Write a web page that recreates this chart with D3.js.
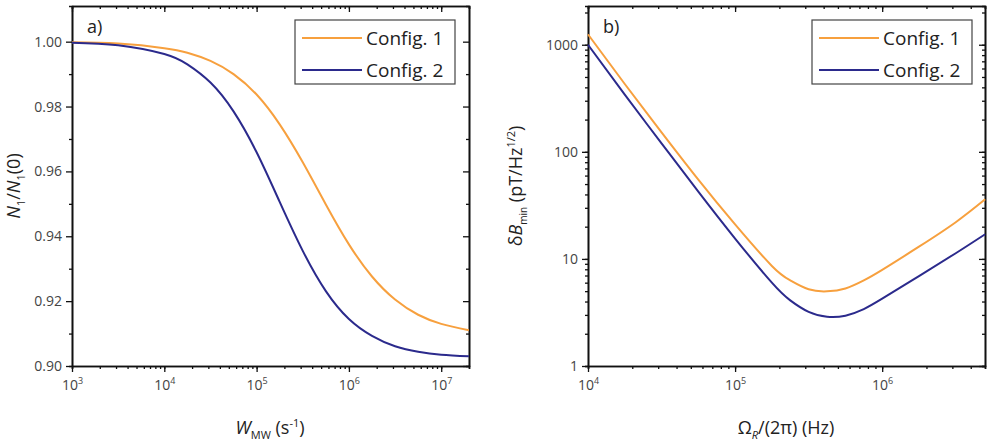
<!DOCTYPE html>
<html>
<head>
<meta charset="utf-8">
<script src="https://cdn.jsdelivr.net/npm/d3@7"></script>
<style>
  body { margin: 0; background: #fff; }
  svg text { font-family: "Open Sans", Lato, sans-serif; }
</style>
</head>
<body>
<svg id="chart" width="993" height="443"></svg>
<script>
// ---- panel a) data : N1/N1(0) vs W_MW (exponent of 10)
var wmwExp = [3, 3.5, 4, 4.25, 4.5, 4.75, 5, 5.25, 5.5, 5.75, 6, 6.25, 6.5, 6.75, 7, 7.3];
var ratioCfg1 = [0.9998, 0.9994, 0.9980, 0.9966, 0.9941, 0.9900, 0.9837, 0.9745, 0.9628, 0.9498,
                 0.9375, 0.9276, 0.9205, 0.9158, 0.9130, 0.9110];
var ratioCfg2 = [0.9997, 0.9989, 0.9962, 0.9930, 0.9874, 0.9785, 0.9659, 0.9506, 0.9355, 0.9231,
                 0.9145, 0.9093, 0.9061, 0.9044, 0.9035, 0.9030];

// ---- panel b) data : dB_min vs Omega_R/2pi (exponent of 10)
var omegaExp = [4, 4.25, 4.5, 4.75, 5, 5.25, 5.375, 5.5, 5.625, 5.75, 5.875, 6, 6.25, 6.5, 6.7];
var dbCfg1 = [1250, 430, 152, 55, 21, 8.6, 6.3, 5.2, 4.98, 5.3, 6.3, 7.9, 13, 22, 36];
var dbCfg2 = [1000, 342, 120, 42.5, 15.5, 6.0, 4.1, 3.2, 2.88, 2.95, 3.4, 4.25, 6.9, 11.3, 17];

var seriesNames = ["Config. 1", "Config. 2"];
var colors = ["#f7a03e", "#2b2a8c"];

var ratioTicks = [0.90, 0.92, 0.94, 0.96, 0.98, 1.00];
var ratioMinor = [0.91, 0.93, 0.95, 0.97, 0.99];
var dbTicks = [1, 10, 100, 1000];

var svg = d3.select("#chart");
var H = {top: 6, bottom: 366};

// all 1..9 x 10^n values inside a log domain
function logMinor(domain) {
  var out = [];
  for (var e = Math.floor(Math.log10(domain[0])); e <= Math.ceil(Math.log10(domain[1])); e++) {
    for (var k = 1; k < 10; k++) {
      var v = k * Math.pow(10, e);
      if (v >= domain[0] * 0.999 && v <= domain[1] * 1.001) out.push(v);
    }
  }
  return out;
}

function styleAxis(g) {
  g.select(".domain").attr("stroke", "#111").attr("stroke-width", 1.6);
  g.selectAll(".tick line").attr("stroke", "#111").attr("stroke-width", 1.3);
  g.selectAll("text").attr("fill", "#444").attr("font-size", 14)
    .attr("font-family", "'Open Sans', Lato, sans-serif");
}

function powLabels(g) {
  g.selectAll(".tick text").each(function(d) {
    var t = d3.select(this);
    t.text("");
    t.append("tspan").text("10");
    t.append("tspan").attr("dy", -6).attr("font-size", 9).text(Math.round(Math.log10(d)));
  });
}

function drawPanel(p) {
  var g = svg.append("g");
  var x = p.x, y = p.y;
  var xr = x.range(), yr = y.range();

  // bottom axis
  var xMaj = p.xMajor;
  g.append("g").attr("transform", "translate(0," + yr[0] + ")")
    .call(d3.axisBottom(x).tickValues(logMinor(x.domain())).tickSize(3).tickFormat(""))
    .call(styleAxis);
  g.append("g").attr("transform", "translate(0," + yr[0] + ")")
    .call(d3.axisBottom(x).tickValues(xMaj).tickSizeInner(6).tickSizeOuter(0).tickPadding(8))
    .call(styleAxis).call(powLabels);
  // top axis (inward)
  g.append("g").attr("transform", "translate(0," + yr[1] + ")")
    .call(d3.axisTop(x).tickValues(logMinor(x.domain())).tickSize(-3).tickFormat(""))
    .call(styleAxis);
  g.append("g").attr("transform", "translate(0," + yr[1] + ")")
    .call(d3.axisTop(x).tickValues(xMaj).tickSizeInner(-6).tickSizeOuter(0).tickFormat(""))
    .call(styleAxis);

  // left axis
  g.append("g").attr("transform", "translate(" + xr[0] + ",0)")
    .call(d3.axisLeft(y).tickValues(p.yMinor).tickSize(3).tickFormat(""))
    .call(styleAxis);
  g.append("g").attr("transform", "translate(" + xr[0] + ",0)")
    .call(d3.axisLeft(y).tickValues(p.yMajor).tickSizeInner(6).tickSizeOuter(0).tickPadding(4)
      .tickFormat(p.yFormat))
    .call(styleAxis);
  // right axis (inward)
  g.append("g").attr("transform", "translate(" + xr[1] + ",0)")
    .call(d3.axisRight(y).tickValues(p.yMinor).tickSize(-3).tickFormat(""))
    .call(styleAxis);
  g.append("g").attr("transform", "translate(" + xr[1] + ",0)")
    .call(d3.axisRight(y).tickValues(p.yMajor).tickSizeInner(-6).tickSizeOuter(0).tickFormat(""))
    .call(styleAxis);

  // curves
  var line = d3.line()
    .x(function(d) { return x(Math.pow(10, d[0])); })
    .y(function(d) { return y(d[1]); })
    .curve(d3.curveNatural);
  p.series.forEach(function(vals, i) {
    g.append("path")
      .datum(p.xs.map(function(e, j) { return [e, vals[j]]; }))
      .attr("fill", "none")
      .attr("stroke", colors[i])
      .attr("stroke-width", 2)
      .attr("d", line);
  });

  // panel letter
  g.append("text").attr("x", xr[0] + 15).attr("y", 33)
    .attr("font-size", 18).attr("fill", "#222").text(p.letter);

  // legend
  var lg = g.append("g").attr("transform", "translate(" + p.legendX + ",20)");
  lg.append("rect").attr("width", 160).attr("height", 64)
    .attr("fill", "#fff").attr("stroke", "#444").attr("stroke-width", 1.2);
  seriesNames.forEach(function(name, i) {
    var ly = 18 + i * 32;
    lg.append("line").attr("x1", 7).attr("x2", 67).attr("y1", ly).attr("y2", ly)
      .attr("stroke", colors[i]).attr("stroke-width", 2);
    lg.append("text").attr("x", 71).attr("y", ly + 7)
      .attr("font-size", 19).attr("fill", "#222").text(name);
  });
}

// panel a
var xA = d3.scaleLog().domain([1e3, 2e7]).range([72, 469]);
var yA = d3.scaleLinear().domain([0.9, 1.011]).range([H.bottom, H.top]);
drawPanel({
  x: xA, y: yA, xMajor: [1e3, 1e4, 1e5, 1e6, 1e7],
  yMajor: ratioTicks, yMinor: ratioMinor,
  yFormat: d3.format(".2f"),
  xs: wmwExp, series: [ratioCfg1, ratioCfg2],
  letter: "a)", legendX: 295
});

// panel b
var xB = d3.scaleLog().domain([1e4, 5e6]).range([588, 985]);
var yB = d3.scaleLog().domain([1, 2300]).range([H.bottom, H.top]);
drawPanel({
  x: xB, y: yB, xMajor: [1e4, 1e5, 1e6],
  yMajor: dbTicks, yMinor: logMinor(yB.domain()),
  yFormat: d3.format("d"),
  xs: omegaExp, series: [dbCfg1, dbCfg2],
  letter: "b)", legendX: 812
});

// axis titles
var titleSize = 18;
var tA = svg.append("text").attr("x", 270).attr("y", 434).attr("text-anchor", "middle")
  .attr("font-size", titleSize).attr("fill", "#222");
tA.append("tspan").attr("font-style", "italic").text("W");
tA.append("tspan").attr("font-size", 11).attr("dy", 5).text("MW");
tA.append("tspan").attr("dy", -5).text(" (s");
tA.append("tspan").attr("font-size", 11).attr("dy", -7).text("-1");
tA.append("tspan").attr("dy", 7).text(")");

var tB = svg.append("text").attr("x", 786).attr("y", 434).attr("text-anchor", "middle")
  .attr("font-size", titleSize).attr("fill", "#222");
tB.append("tspan").text("\u03A9");
tB.append("tspan").attr("font-size", 11).attr("dy", 5).attr("font-style", "italic").text("R");
tB.append("tspan").attr("dy", -5).text("/(2\u03C0) (Hz)");

var yTa = svg.append("text").attr("transform", "translate(20,186) rotate(-90)")
  .attr("text-anchor", "middle").attr("font-size", titleSize).attr("fill", "#222");
yTa.append("tspan").attr("font-style", "italic").text("N");
yTa.append("tspan").attr("font-size", 11).attr("dy", 5).text("1");
yTa.append("tspan").attr("dy", -5).text("/");
yTa.append("tspan").attr("font-style", "italic").text("N");
yTa.append("tspan").attr("font-size", 11).attr("dy", 5).text("1");
yTa.append("tspan").attr("dy", -5).text("(0)");

var yTb = svg.append("text").attr("transform", "translate(522,186) rotate(-90)")
  .attr("text-anchor", "middle").attr("font-size", titleSize).attr("fill", "#222");
yTb.append("tspan").text("\u03B4");
yTb.append("tspan").attr("font-style", "italic").text("B");
yTb.append("tspan").attr("font-size", 10).attr("dy", 5).text("min");
yTb.append("tspan").attr("dy", -5).text(" (pT/Hz");
yTb.append("tspan").attr("font-size", 11).attr("dy", -7).text("1/2");
yTb.append("tspan").attr("dy", 7).text(")");
</script>
</body>
</html>
